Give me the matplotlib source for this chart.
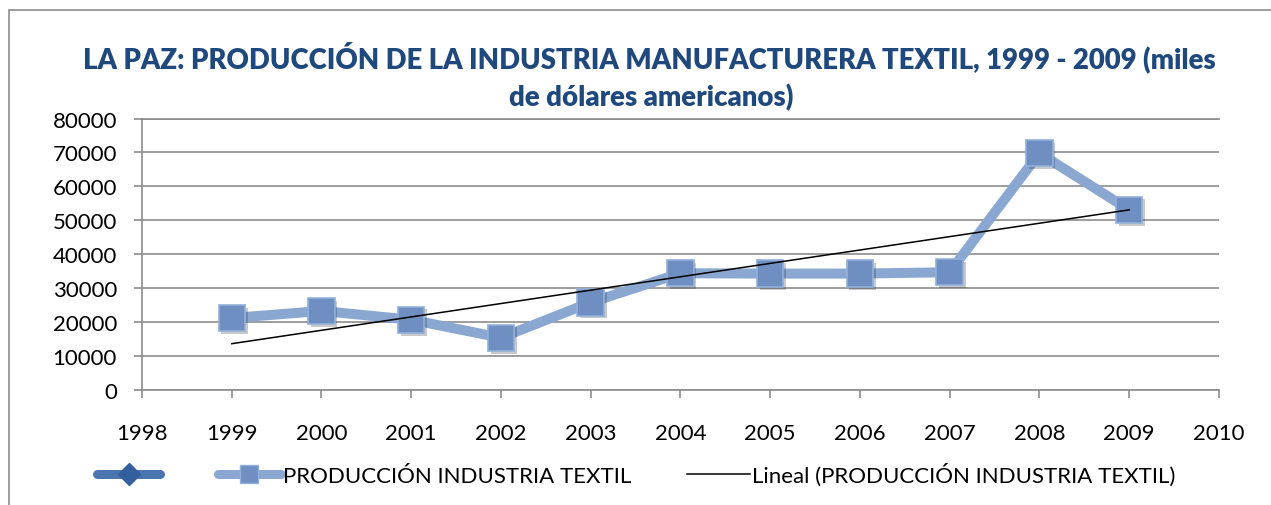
import numpy as np
import matplotlib.pyplot as plt
from matplotlib.lines import Line2D
from matplotlib.patches import Rectangle
import matplotlib.patheffects as pe

plt.rcParams['font.family'] = ['Lato', 'DejaVu Sans']

# === 데이터 ===
years = [1999, 2000, 2001, 2002, 2003, 2004, 2005, 2006, 2007, 2008, 2009]
produccion = [21200, 23300, 20700, 15400, 25800, 34400, 34300, 34300, 34700, 69800, 53100]
x_ticks = list(range(1998, 2011))
y_ticks = list(range(0, 80001, 10000))

title_1 = "LA PAZ: PRODUCCIÓN DE LA INDUSTRIA MANUFACTURERA TEXTIL, 1999 - 2009 (miles"
title_2 = "de dólares americanos)"
serie_label = "PRODUCCIÓN INDUSTRIA TEXTIL"
trend_label = "Lineal (PRODUCCIÓN INDUSTRIA TEXTIL)"

serie_color = '#8aa7d1'
marker_face = '#6f8fc3'
title_color = '#1f497d'
grid_color = '#8c8c8c'

fig = plt.figure(figsize=(12.71, 5.06), dpi=100)
ax = fig.add_axes([0.1117, 0.2273, 0.959 - 0.1117, 0.7638 - 0.2273])

# 선형 추세선 (Excel "Lineal")
coef = np.polyfit(years, produccion, 1)
trend = np.polyval(coef, years)

ax.plot(years, produccion, '-', color=serie_color, lw=7.2, solid_joinstyle='miter', zorder=3)
ax.plot(years, produccion, 's', ms=19, mfc=marker_face, mec='#93b0da', mew=1.2, zorder=4,
        path_effects=[pe.SimplePatchShadow(offset=(2, -2), alpha=0.25), pe.Normal()])
ax.plot([years[0], years[-1]], [trend[0], trend[-1]], '-', color='black', lw=1.1, zorder=5)

ax.set_xlim(1998, 2010)
ax.set_ylim(0, 80000)
ax.set_xticks(x_ticks)
ax.set_yticks(y_ticks)
ax.set_xticklabels([str(t) for t in x_ticks])
ax.set_yticklabels([str(t) for t in y_ticks])
ax.tick_params(axis='both', labelsize=16, colors=grid_color, labelcolor='black', length=6, width=1.2)
ax.tick_params(axis='x', pad=18)
ax.tick_params(axis='y', pad=12)
ax.grid(axis='y', color=grid_color, lw=1.2)
ax.set_axisbelow(True)
for s in ['left', 'bottom', 'top']:
    ax.spines[s].set_color(grid_color)
    ax.spines[s].set_linewidth(1.2)
ax.spines['right'].set_visible(False)

# 제목
fig.text(0.511, 0.887, title_1, ha='center', va='center', fontsize=19.8, fontweight='heavy', color=title_color)
fig.text(0.512, 0.808, title_2, ha='center', va='center', fontsize=19.8, fontweight='heavy', color=title_color)

# 범례
handles = [
    Line2D([], [], color='#4a75b0', lw=6.5, marker='D', ms=11, mfc='#335f9e', mec='#335f9e', solid_capstyle='round'),
    Line2D([], [], color=serie_color, lw=6.5, marker='s', ms=13, mfc=marker_face, mec='#93b0da', solid_capstyle='round'),
    Line2D([], [], color='black', lw=1.1),
]
fig.legend(handles, ['', serie_label, trend_label], ncol=3, loc='center left',
           bbox_to_anchor=(97 / 1271, 0.061), frameon=False, fontsize=16,
           handlelength=2.84, handletextpad=0.1, columnspacing=2.5, borderpad=0, borderaxespad=0)

# 차트 테두리
fig.add_artist(Rectangle((9 / 1271, -0.1), 1.1, 1.1 - 11 / 506, transform=fig.transFigure,
                         fill=False, edgecolor=grid_color, lw=1.2))

plt.savefig('out.png', dpi=100)
plt.close()
